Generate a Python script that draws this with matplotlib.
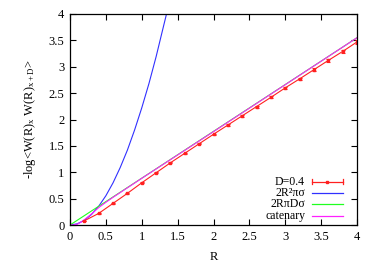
import matplotlib
matplotlib.use("Agg")
import matplotlib.pyplot as plt
import numpy as np

plt.rcParams['font.family'] = ['Liberation Serif', 'DejaVu Serif']
plt.rcParams['mathtext.fontset'] = 'stix'

# Data
R_data = [0.2, 0.4, 0.6, 0.8, 1.0, 1.2, 1.4, 1.6, 1.8, 2.0, 2.2, 2.4, 2.6, 2.8,
          3.0, 3.2, 3.4, 3.6, 3.8, 4.0]
W_data = [0.08, 0.22, 0.41, 0.60, 0.80, 0.99, 1.18, 1.36, 1.54, 1.72, 1.895,
          2.07, 2.245, 2.42, 2.60, 2.77, 2.945, 3.12, 3.29, 3.47]
W_err = [0.005, 0.006, 0.007, 0.008, 0.009, 0.010, 0.011, 0.012, 0.013, 0.014,
         0.015, 0.016, 0.018, 0.019, 0.020, 0.022, 0.024, 0.026, 0.028, 0.030]

R_blue = [0.0, 0.1, 0.2, 0.3, 0.4, 0.5, 0.6, 0.7, 0.8, 0.9, 1.0, 1.1, 1.2, 1.3, 1.345]
W_blue = [0.0, 0.022, 0.089, 0.20, 0.355, 0.555, 0.80, 1.09, 1.42, 1.80, 2.22,
          2.68, 3.19, 3.75, 4.0]

R_green = [0.0, 4.0]
W_green = [0.0, 3.55]

R_cat = [0.0, 0.05, 0.1, 0.15, 0.2, 0.25, 0.3, 0.35, 0.4, 0.5, 0.6, 0.8, 1.0,
         2.0, 3.0, 4.0]
W_cat = [0.0, 0.0, 0.015, 0.05, 0.10, 0.155, 0.21, 0.27, 0.33, 0.43, 0.525,
         0.705, 0.885, 1.77, 2.66, 3.55]

labels = ["D=0.4", "2R²πσ", "2RπDσ", "catenary"]
xticks = [0, 0.5, 1, 1.5, 2, 2.5, 3, 3.5, 4]
yticks = [0, 0.5, 1, 1.5, 2, 2.5, 3, 3.5, 4]

red = '#ff2020'
blue = '#3030ff'
green = '#20ff20'
magenta = '#ff20ff'

fig = plt.figure(figsize=(3.74, 2.62), dpi=100)
ax = fig.add_axes([70/374, 37/262, 287/374, 211/262])

ax.plot(R_blue, W_blue, color=blue, lw=0.8)
ax.plot(R_green, W_green, color=green, lw=0.8)
ax.plot(R_cat, W_cat, color=magenta, lw=0.8)
ax.errorbar(R_data, W_data, yerr=W_err, color=red, lw=0.8, marker='s', ms=2,
            capsize=1.5, elinewidth=0.8, capthick=0.8)

ax.set_xlim(0, 4)
ax.set_ylim(0, 4)
ax.set_xticks(xticks)
ax.set_xticklabels([f"{t:g}" for t in xticks])
ax.set_yticks(yticks)
ax.set_yticklabels([f"{t:g}" for t in yticks])
ax.tick_params(direction='in', top=True, right=True, length=4, width=0.8,
               labelsize=9, pad=4)
for s in ax.spines.values():
    s.set_linewidth(0.9)

ax.set_xlabel("R", fontsize=9, labelpad=6)
ax.set_ylabel(r"-log<W(R)$_\mathregular{x}$ W(R)$_\mathregular{x+D}$>", fontsize=9, labelpad=8)

# Legend (gnuplot style: text right-aligned, sample to the right)
rows = [0.205, 0.152, 0.098, 0.043]
colors = [red, blue, green, magenta]
x0, x1, xt = 0.843, 0.951, 0.819
for i, (lab, c, yy) in enumerate(zip(labels, colors, rows)):
    ax.text(xt, yy, lab, transform=ax.transAxes, ha='right', va='center',
            fontsize=8.5, family=['Liberation Serif', 'DejaVu Serif'])
    ax.plot([x0, x1], [yy, yy], transform=ax.transAxes, color=c, lw=0.9,
            clip_on=False)
    if i == 0:
        for xx in (x0, x1):
            ax.plot([xx, xx], [yy - 0.012, yy + 0.012], transform=ax.transAxes,
                    color=c, lw=0.9, clip_on=False)
        ax.plot([(x0 + x1) / 2], [yy], transform=ax.transAxes, color=c,
                marker='s', ms=2, clip_on=False)

fig.savefig("out.png", dpi=100)
